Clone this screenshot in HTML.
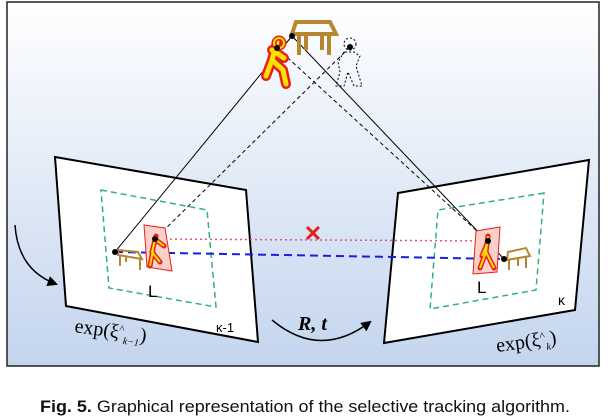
<!DOCTYPE html>
<html><head><meta charset="utf-8"><style>
body{margin:0;background:#fff;width:608px;height:420px;overflow:hidden}
svg{display:block}
</style></head><body>
<svg width="608" height="420" viewBox="0 0 608 420">
<defs>
<linearGradient id="bg" x1="0" y1="0" x2="0" y2="1">
<stop offset="0" stop-color="#ffffff"/><stop offset="1" stop-color="#c3d5ee"/>
</linearGradient>
<marker id="ah" viewBox="0 0 10 10" refX="8" refY="5" markerWidth="7" markerHeight="7" orient="auto"><path d="M0,0 L10,5 L0,10 z" fill="#000"/></marker>
</defs>
<rect x="7" y="2" width="592" height="364" fill="url(#bg)" stroke="#222" stroke-width="1.5"/>
<polygon points="55,157 246,190 258,342 66,306" fill="#fff" stroke="#000" stroke-width="2"/>
<polygon points="398,193 589,160 575,310 384,343" fill="#fff" stroke="#000" stroke-width="2"/>
<polygon points="101,190 207,210 216,307 109,288" fill="none" stroke="#2eb37a" stroke-width="1.5" stroke-dasharray="6,4"/>
<polygon points="544,193 438,210 430,309 536,290" fill="none" stroke="#2eb37a" stroke-width="1.5" stroke-dasharray="6,4"/>
<line x1="292" y1="36" x2="115" y2="252" stroke="#000" stroke-width="1"/>
<line x1="292" y1="36" x2="504" y2="259" stroke="#000" stroke-width="1"/>
<line x1="350" y1="47" x2="155" y2="239" stroke="#000" stroke-width="1" stroke-dasharray="4,3"/>
<line x1="277" y1="48" x2="488" y2="241" stroke="#000" stroke-width="1" stroke-dasharray="4,3"/>
<line x1="155" y1="239" x2="488" y2="241" stroke="#e8508a" stroke-width="1.5" stroke-dasharray="2,3"/>
<line x1="115" y1="252" x2="504" y2="259" stroke="#1520e0" stroke-width="2" stroke-dasharray="8,5"/>
<text x="313" y="241" font-family="Liberation Sans,sans-serif" font-size="22" font-weight="bold" fill="#e5201c" text-anchor="middle">✕</text>
<g fill="none" stroke="#b88530" stroke-width="4">
<path d="M296,22 L330,22 L336,34 L292,34 z" fill="none"/>
<line x1="299" y1="34" x2="299" y2="55"/><line x1="306" y1="34" x2="306" y2="50"/><line x1="322" y1="34" x2="322" y2="50"/><line x1="329" y1="34" x2="329" y2="55"/>
</g>
<g fill="none" stroke-linecap="round" stroke-linejoin="round">
<path d="M277,42 L272,60 L266,76 M272,60 L283,70 L286,84 M272,50 L284,58" stroke="#e5201c" stroke-width="10"/>
<path d="M277,42 L272,60 L266,76 M272,60 L283,70 L286,84 M272,50 L284,58" stroke="#ffe000" stroke-width="5"/>
<circle cx="279" cy="43" r="5" stroke="#e5201c" stroke-width="5"/>
<circle cx="279" cy="43" r="5" stroke="#ffe000" stroke-width="2"/>
</g>
<g fill="none" stroke="#000" stroke-width="1" stroke-dasharray="2,2">
<circle cx="350" cy="44" r="6"/>
<path d="M344,52 L338,62 L340,72 L336,86 L344,86 L348,72 L354,86 L362,86 L356,66 L360,56 L354,52 z"/>
</g>
<circle cx="292" cy="36" r="3" fill="#000"/><circle cx="277" cy="48" r="3" fill="#000"/><circle cx="350" cy="47" r="3" fill="#000"/>
<g fill="none" stroke="#b88530" stroke-width="2">
<path d="M118,250 L138,252 L142,259 L118,255 z"/><line x1="120" y1="255" x2="120" y2="266"/><line x1="126" y1="256" x2="126" y2="262"/><line x1="140" y1="258" x2="140" y2="270"/>
</g>
<polygon points="144,225 165,228 172,271 147,267" fill="#fbd0c8" stroke="#e5201c"/>
<path d="M156,236 L152,252 L160,262 M153,250 L150,266 M156,240 L164,246" stroke="#e5201c" stroke-width="5" fill="none" stroke-linecap="round"/>
<path d="M156,236 L152,252 L160,262 M153,250 L150,266 M156,240 L164,246" stroke="#ffe000" stroke-width="2" fill="none"/>
<circle cx="155" cy="239" r="3" fill="#000"/><circle cx="115" cy="252" r="3" fill="#000"/>
<polygon points="476,231 500,227 497,272 473,274" fill="#fbd0c8" stroke="#e5201c"/>
<path d="M488,236 L486,252 L480,268 M486,252 L494,268 M487,244 L482,256" stroke="#e5201c" stroke-width="5" fill="none" stroke-linecap="round"/>
<path d="M488,236 L486,252 L480,268 M486,252 L494,268 M487,244 L482,256" stroke="#ffe000" stroke-width="2" fill="none"/>
<g fill="none" stroke="#b88530" stroke-width="2">
<path d="M508,252 L526,248 L530,256 L507,260 z"/><line x1="509" y1="260" x2="509" y2="270"/><line x1="518" y1="258" x2="518" y2="266"/><line x1="526" y1="256" x2="526" y2="268"/>
</g>
<circle cx="488" cy="241" r="3" fill="#000"/><circle cx="504" cy="259" r="3" fill="#000"/>
<g font-family="Liberation Sans,sans-serif" fill="#000">
<text x="148" y="297" font-size="17">L</text>
<text x="477" y="293" font-size="17">L</text>
<text x="216" y="332" font-size="13">κ-1</text>
<text x="558" y="305" font-size="14">κ</text>
</g>
<g font-family="Liberation Serif,serif" fill="#000">
<text x="74" y="332" font-size="20" transform="rotate(8 74 332)">exp(ξ<tspan font-size="11" dy="-6">^</tspan><tspan font-size="10" dy="11" font-style="italic">k−1</tspan><tspan dy="-5">)</tspan></text>
<text x="497" y="352" font-size="20" transform="rotate(-8 497 352)">exp(ξ<tspan font-size="11" dy="-6">^</tspan><tspan font-size="10" dy="11" font-style="italic">k</tspan><tspan dy="-5">)</tspan></text>
<text x="298" y="330" font-size="20" font-weight="bold" font-style="italic">R, t</text>
</g>
<path d="M15,225 Q18,270 56,284" fill="none" stroke="#000" stroke-width="1.5" marker-end="url(#ah)"/>
<path d="M272,320 Q320,360 370,322" fill="none" stroke="#000" stroke-width="1.5" marker-end="url(#ah)"/>
<text x="40" y="412" textLength="530" lengthAdjust="spacingAndGlyphs" font-family="Liberation Sans,sans-serif" font-size="17" fill="#111"><tspan font-weight="bold">Fig. 5.</tspan> Graphical representation of the selective tracking algorithm.</text>
</svg>
</body></html>
